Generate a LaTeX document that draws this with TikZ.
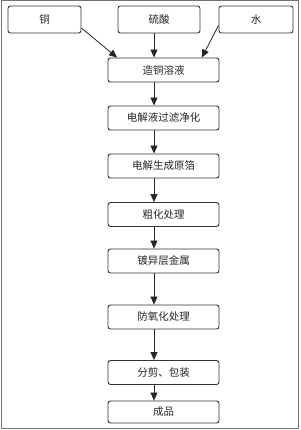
\documentclass[tikz,border=0pt]{standalone}
\usepackage{fontspec}
\newfontfamily\cjk{Noto Sans CJK SC}
\usetikzlibrary{arrows.meta}
\begin{document}
\begin{tikzpicture}[x=1pt,y=-1pt,
  box/.style={draw=black!80, line width=0.9pt, rounded corners=2.5pt, fill=white,
    inner sep=0pt, font=\cjk\fontsize{10.5}{12}\selectfont, text=black!85},
  proc/.style={box, minimum width=111pt, minimum height=24pt},
  src/.style={box, minimum height=27pt},
  flow/.style={draw=black!85, line width=0.8pt, -{Triangle[width=7pt,length=8pt]}}]
\useasboundingbox (0,0) rectangle (300,430);
\draw[black!55, line width=1pt] (1.5,1) rectangle (298.5,428.5);
\coordinate (col) at (154,0);
\node[src, minimum width=73pt] (tong) at (44.5,19.5) {铜};
\node[src, minimum width=82pt] (suan) at (159,19.5) {硫酸};
\node[src, minimum width=74pt] (shui) at (256,19.5) {水};
\node[proc] (n1) at (163.5,70) {造铜溶液};
\node[proc] (n2) at (163.5,118) {电解液过滤净化};
\node[proc] (n3) at (163.5,166) {电解生成原箔};
\node[proc] (n4) at (163.5,214.5) {粗化处理};
\node[proc] (n5) at (163.5,261) {镀异层金属};
\node[proc] (n6) at (163.5,317) {防氧化处理};
\node[proc] (n7) at (163.5,372.5) {分剪、包装};
\node[proc, minimum height=22pt] (n8) at (163.5,412) {成品};
\draw[flow] (tong.-13) -- (n1.165);
\draw[flow] (suan.south -| col) -- (n1.north -| col);
\draw[flow] (shui.189) -- (n1.18);
\draw[flow] (n1.south -| col) -- (n2.north -| col);
\draw[flow] (n2.south -| col) -- (n3.north -| col);
\draw[flow] (n3.south -| col) -- (n4.north -| col);
\draw[flow] (n4.south -| col) -- (n5.north -| col);
\draw[flow] (n5.south -| col) -- (n6.north -| col);
\draw[flow] (n6.south -| col) -- (n7.north -| col);
\draw[flow] (n7.south -| col) -- (n8.north -| col);
\end{tikzpicture}
\end{document}
